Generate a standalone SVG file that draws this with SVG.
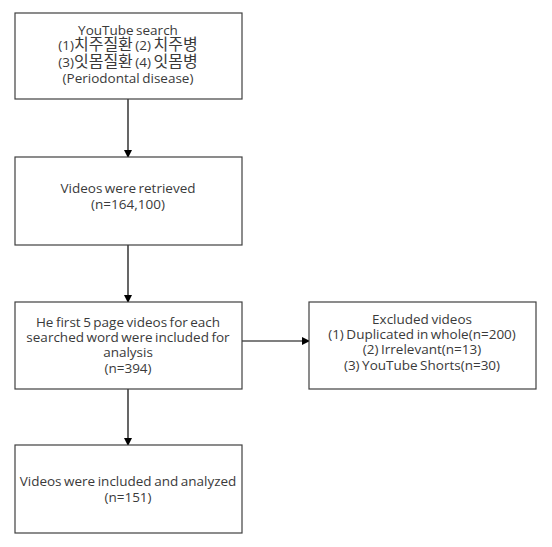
<svg xmlns="http://www.w3.org/2000/svg" width="552" height="547" viewBox="0 0 552 547">
<style>
.box{fill:#fff;stroke:#404040;stroke-width:1.2}
.t{font-family:"Open Sans","Noto Sans CJK KR",sans-serif;font-size:13.5px;fill:#3a3a3a;text-anchor:middle;word-spacing:-1px}
.k{font-size:16px}
.ln{stroke:#000;stroke-width:1.2;fill:none}
</style>
<defs>
<marker id="ah" markerWidth="8" markerHeight="8" refX="7" refY="4" orient="auto" markerUnits="userSpaceOnUse">
<path d="M0,0 L8,4 L0,8 Z" fill="#000"/>
</marker>
</defs>
<rect width="552" height="547" fill="#fff"/>
<g id="connectors">
<line class="ln" x1="128" y1="99" x2="128" y2="157" marker-end="url(#ah)"/>
<line class="ln" x1="128" y1="245" x2="128" y2="302" marker-end="url(#ah)"/>
<line class="ln" x1="128" y1="389" x2="128" y2="445" marker-end="url(#ah)"/>
<line class="ln" x1="242" y1="341" x2="309" y2="341" marker-end="url(#ah)"/>
</g>
<g id="n1">
<rect class="box" x="15" y="13" width="227" height="86"/>
<text class="t" x="128" y="35">YouTube search</text>
<text class="t" x="128" y="50">(1)<tspan class="k">치주질환</tspan> (2) <tspan class="k">치주병</tspan></text>
<text class="t" x="128" y="67">(3)<tspan class="k">잇몸질환</tspan> (4) <tspan class="k">잇몸병</tspan></text>
<text class="t" x="128" y="83">(Periodontal disease)</text>
</g>
<g id="n2">
<rect class="box" x="15" y="157" width="227" height="88"/>
<text class="t" x="128" y="193">Videos were retrieved</text>
<text class="t" x="128" y="209">(n=164,100)</text>
</g>
<g id="n3">
<rect class="box" x="15" y="302" width="227" height="87"/>
<text class="t" x="128" y="327">He first 5 page videos for each</text>
<text class="t" x="128" y="342">searched  word were included for</text>
<text class="t" x="128" y="357">analysis</text>
<text class="t" x="128" y="373">(n=394)</text>
</g>
<g id="n4">
<rect class="box" x="309" y="302" width="227" height="87"/>
<text class="t" x="422" y="324">Excluded videos</text>
<text class="t" x="422" y="339">(1) Duplicated in whole(n=200)</text>
<text class="t" x="422" y="354">(2) Irrelevant(n=13)</text>
<text class="t" x="422" y="370">(3) YouTube Shorts(n=30)</text>
</g>
<g id="n5">
<rect class="box" x="15" y="445" width="227" height="88"/>
<text class="t" x="128" y="486">Videos were included and analyzed</text>
<text class="t" x="128" y="502">(n=151)</text>
</g>
</svg>
